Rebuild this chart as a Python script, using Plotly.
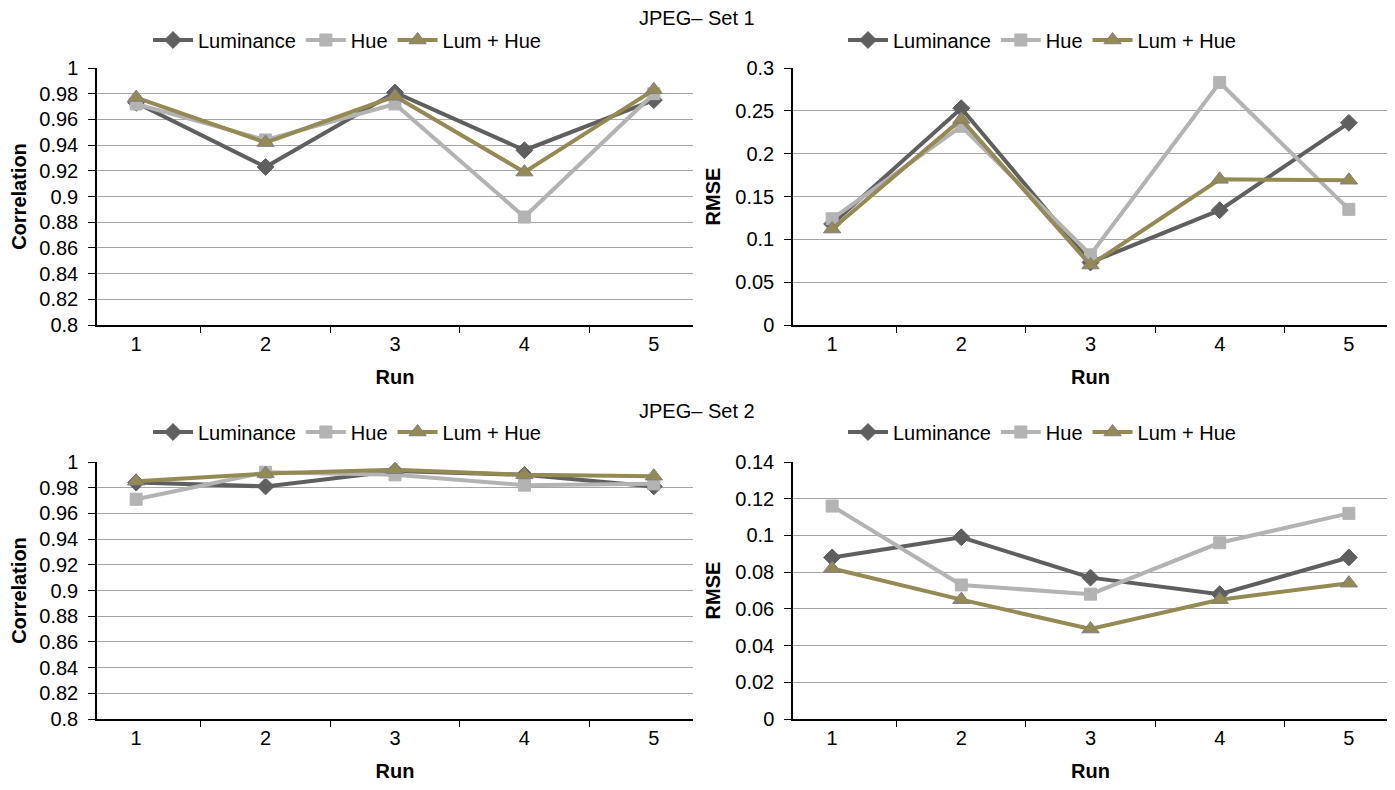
import plotly.graph_objects as go

runs = ["1", "2", "3", "4", "5"]
series_names = ["Luminance", "Hue", "Lum + Hue"]

# JPEG - Set 1
corr1_lum = [0.973, 0.923, 0.981, 0.936, 0.975]
corr1_hue = [0.972, 0.944, 0.972, 0.884, 0.980]
corr1_lh = [0.977, 0.942, 0.978, 0.919, 0.983]
rmse1_lum = [0.118, 0.253, 0.073, 0.134, 0.236]
rmse1_hue = [0.124, 0.232, 0.082, 0.283, 0.135]
rmse1_lh = [0.112, 0.240, 0.070, 0.170, 0.169]

# JPEG - Set 2
corr2_lum = [0.984, 0.981, 0.993, 0.990, 0.981]
corr2_hue = [0.971, 0.992, 0.990, 0.982, 0.983]
corr2_lh = [0.985, 0.991, 0.994, 0.990, 0.989]
rmse2_lum = [0.088, 0.099, 0.077, 0.068, 0.088]
rmse2_hue = [0.116, 0.073, 0.068, 0.096, 0.112]
rmse2_lh = [0.082, 0.065, 0.049, 0.065, 0.074]

titles = ["JPEG\u2013 Set 1", "JPEG\u2013 Set 2"]

colors = ["#5f5f5f", "#b3b3b3", "#948a54"]
symbols = ["diamond", "square", "triangle-up"]
msizes = [13, 12, 15]
mline = ["#5f5f5f", "#b3b3b3", "#7f7f7f"]

FONT = "Liberation Sans, Arial, sans-serif"
FS = 20
OFF = 8  # page body margin offset
W, H = 1395 - OFF, 790 - OFF


def fx(px):
    return (px - OFF) / W


def fy(py):
    return 1 - (py - OFF) / H


panels = [
    dict(data=[corr1_lum, corr1_hue, corr1_lh], xs=(97, 693), ys=(68, 325), rng=[0.8, 1.0], dt=0.02, ytitle="Correlation", ystand=8, leg_cx=347, leg_cy=40),
    dict(data=[rmse1_lum, rmse1_hue, rmse1_lh], xs=(793, 1388), ys=(68, 325), rng=[0, 0.3], dt=0.05, ytitle="RMSE", ystand=9, leg_cx=1042, leg_cy=40),
    dict(data=[corr2_lum, corr2_hue, corr2_lh], xs=(97, 693), ys=(462, 719), rng=[0.8, 1.0], dt=0.02, ytitle="Correlation", ystand=8, leg_cx=347, leg_cy=432),
    dict(data=[rmse2_lum, rmse2_hue, rmse2_lh], xs=(793, 1388), ys=(462, 719), rng=[0, 0.14], dt=0.02, ytitle="RMSE", ystand=9, leg_cx=1042, leg_cy=432),
]

fig = go.Figure()
layout = dict(
    width=W, height=H, margin=dict(l=0, r=0, t=0, b=0, autoexpand=False),
    paper_bgcolor="white", plot_bgcolor="white",
    font=dict(family=FONT, size=FS, color="black"),
)

for i, p in enumerate(panels):
    k = "" if i == 0 else str(i + 1)
    legname = "legend" + k
    for j in range(3):
        fig.add_trace(go.Scatter(
            x=runs, y=p["data"][j], name=series_names[j],
            mode="lines+markers",
            line=dict(color=colors[j], width=4),
            marker=dict(symbol=symbols[j], size=msizes[j], color=colors[j],
                        line=dict(color=mline[j], width=1)),
            xaxis="x" + k, yaxis="y" + k, legend=legname,
        ))
    x0, x1 = p["xs"]
    y0, y1 = p["ys"]
    layout["xaxis" + k] = dict(
        domain=[fx(x0), fx(x1)], anchor="y" + k, type="category",
        tickson="boundaries", ticks="outside", ticklen=6, tickcolor="black",
        showline=True, linecolor="black", linewidth=1.5, showgrid=False,
        tickfont=dict(size=FS), zeroline=False, automargin=False,
        title=dict(text="<b>Run</b>", font=dict(size=FS), standoff=16),
    )
    layout["yaxis" + k] = dict(
        domain=[fy(y1), fy(y0)], anchor="x" + k,
        range=p["rng"], dtick=p["dt"], tick0=0,
        ticks="outside", ticklen=7, tickcolor="black",
        showline=True, linecolor="black", linewidth=1.5,
        showgrid=True, gridcolor="#a6a6a6", gridwidth=1.2, zeroline=False,
        tickfont=dict(size=FS), ticklabelstandoff=6, automargin=False,
        title=dict(text="<b>" + p["ytitle"] + "</b>", font=dict(size=FS), standoff=p["ystand"]),
    )
    layout[legname] = dict(
        orientation="h", x=fx(p["leg_cx"]), xanchor="center",
        y=fy(p["leg_cy"]), yanchor="middle",
        font=dict(size=FS), bgcolor="rgba(0,0,0,0)", itemwidth=40,
        tracegroupgap=0,
    )

layout["annotations"] = [
    dict(text=titles[0], x=fx(697), y=fy(18), xref="paper", yref="paper",
         showarrow=False, xanchor="center", yanchor="middle", font=dict(size=FS)),
    dict(text=titles[1], x=fx(697), y=fy(411), xref="paper", yref="paper",
         showarrow=False, xanchor="center", yanchor="middle", font=dict(size=FS)),
]

fig.update_layout(**layout)
fig.write_html("out.html")
